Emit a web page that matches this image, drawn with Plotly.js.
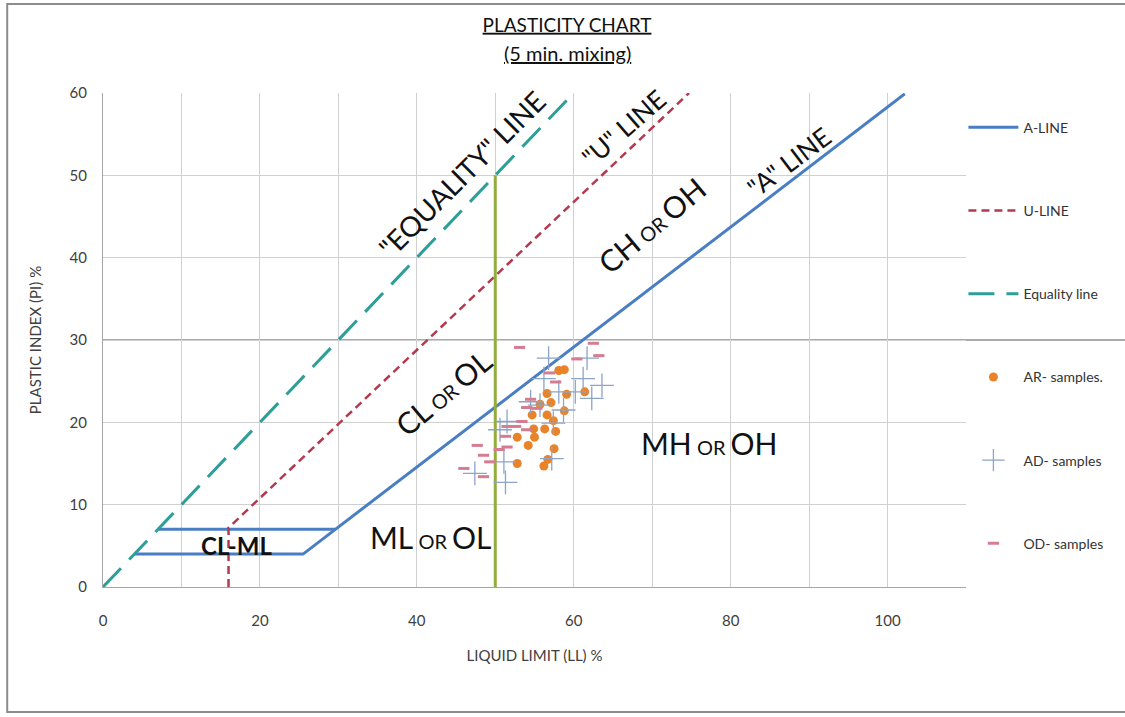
<!DOCTYPE html>
<html><head><meta charset="utf-8">
<script src="https://cdn.plot.ly/plotly-3.0.1.min.js"></script>
<style>html,body{margin:0;padding:0;background:#fff}#chart{width:1125px;height:717px}</style>
</head><body><div id="chart"></div>
<script>
// Reference lines
const aLineLL = [4, 25.5, 102.2, null, 7, 29.6];
const aLinePI = [4, 4, 59.9, null, 7, 7];
const uLineLL = [16, 16, 74.7];
const uLinePI = [0, 7.2, 60];
const eqLineLL = [0, 60];
const eqLinePI = [0, 60];
const ll50LL = [50, 50];
const ll50PI = [0, 50];

// AR- samples
const arLL = [58.1, 58.8, 56.6, 59.1, 61.4, 57.1, 55.7, 58.8, 54.7, 56.6, 57.4, 54.9, 56.3, 57.7, 52.8, 55.0, 54.2, 57.5, 52.8, 56.7, 56.2];
const arPI = [26.3, 26.4, 23.5, 23.4, 23.7, 22.4, 22.2, 21.4, 20.9, 20.9, 20.2, 19.2, 19.2, 18.9, 18.2, 18.2, 17.2, 16.8, 15.0, 15.5, 14.7];

// AD- samples
const adLL = [56.8, 61.7, 56.2, 61.2, 63.6, 58.1, 60.2, 62.3, 54.5, 55.7, 58.7, 57.4, 51.5, 50.6, 51.1, 57.2, 47.4, 51.3];
const adPI = [27.8, 27.8, 25.3, 25.3, 24.5, 23.7, 23.7, 22.9, 22.5, 22.1, 21.5, 19.9, 20.1, 19.1, 15.2, 15.6, 13.8, 12.7];

// OD- samples
const odLL = [62.5, 53.1, 60.4, 63.2, 56.9, 57.7, 54.5, 54.0, 55.3, 53.4, 52.6, 51.5, 54.0, 51.3, 47.7, 51.5, 50.5, 48.5, 49.3, 46.0, 48.5];
const odPI = [29.6, 29.1, 27.7, 28.1, 26.0, 24.9, 22.8, 21.8, 21.7, 20.1, 19.5, 19.5, 19.1, 18.3, 17.2, 17.0, 16.7, 16.0, 15.2, 14.4, 13.4];

const xTicks = [0, 20, 40, 60, 80, 100];
const yTicks = [0, 10, 20, 30, 40, 50, 60];

const FONT = 'Lato, "Open Sans", sans-serif';

const traces = [
  {x: aLineLL, y: aLinePI, name: 'A-LINE', mode: 'lines', legendgroup: 'g1',
   line: {color: '#4A7EC4', width: 3}},
  {x: uLineLL, y: uLinePI, name: 'U-LINE', mode: 'lines', legendgroup: 'g2',
   line: {color: '#B5394E', width: 2.5, dash: '8px,5px'}},
  {x: eqLineLL, y: eqLinePI, name: 'Equality line', mode: 'lines', legendgroup: 'g3',
   line: {color: '#2E9E98', width: 3, dash: '26px,12px'}},
  {x: ll50LL, y: ll50PI, name: 'LL 50', mode: 'lines', showlegend: false,
   line: {color: '#93AD3C', width: 3}},
  {x: arLL, y: arPI, name: 'AR- samples.', mode: 'markers', legendgroup: 'g4',
   marker: {symbol: 'circle', size: 9, color: '#E8832A'}},
  {x: adLL, y: adPI, name: 'AD- samples', mode: 'markers', legendgroup: 'g5',
   marker: {symbol: 'cross-thin-open', size: 17, color: '#8CA4C8', line: {color: '#8CA4C8', width: 1.3}}},
  {x: odLL, y: odPI, name: 'OD- samples', mode: 'markers', legendgroup: 'g6',
   marker: {symbol: 'line-ew-open', size: 8, color: '#D47C90', line: {color: '#D47C90', width: 3}}}
];

function small(t) { return '<span style="font-size:20px">' + t + '</span>'; }

const annFont = {family: FONT, size: 30, color: '#111'};
const annotations = [
  {x: 45.7, y: 50.2, text: '"EQUALITY" LINE', textangle: -45, font: {family: FONT, size: 28, color: '#111'}},
  {x: 66.3, y: 55.8, text: '"U" LINE', textangle: -41, font: {family: FONT, size: 26, color: '#111'}},
  {x: 87.4, y: 51.6, text: '"A" LINE', textangle: -37, font: {family: FONT, size: 26, color: '#111'}},
  {x: 69.9, y: 44.0, text: 'CH' + small(' OR ') + 'OH', textangle: -40, font: annFont},
  {x: 43.4, y: 23.7, text: 'CL' + small(' OR ') + 'OL', textangle: -40, font: annFont},
  {x: 77.3, y: 17.5, text: 'MH' + small(' OR ') + 'OH', font: annFont},
  {x: 41.8, y: 6.1, text: 'ML' + small(' OR ') + 'OL', font: annFont},
  {x: 17.0, y: 5.0, text: '<b>CL-ML</b>', font: {family: FONT, size: 24, color: '#111'}}
].map(a => Object.assign({xref: 'x', yref: 'y', showarrow: false}, a));

annotations.push({
  xref: 'paper', yref: 'paper', x: 0.5377, y: 1.081, yanchor: 'middle', showarrow: false,
  text: '<u>(5 min. mixing)</u>', font: {family: FONT, size: 20, color: '#111'}
});

const layout = {
  width: 1125, height: 717,
  margin: {l: 103, r: 159, t: 93, b: 130},
  paper_bgcolor: '#fff', plot_bgcolor: '#fff',
  font: {family: FONT, color: '#404040'},
  title: {
    text: '<u>PLASTICITY CHART</u>',
    xref: 'container', x: 0.504, xanchor: 'center', yref: 'container', y: 0.965, yanchor: 'middle',
    font: {family: FONT, size: 19, color: '#111'}
  },
  xaxis: {
    range: [0, 110], tickvals: xTicks, ticktext: xTicks.map(String),
    showgrid: true, gridcolor: '#D0D0D0', gridwidth: 1,
    minor: {dtick: 10, showgrid: true, gridcolor: '#D0D0D0', gridwidth: 1},
    zeroline: false, showline: true, linecolor: '#A6A6A6', linewidth: 1,
    ticks: '', ticklabelstandoff: 20,
    tickfont: {family: FONT, size: 15, color: '#404040'},
    title: {text: 'LIQUID LIMIT (LL) %', standoff: 22, font: {family: FONT, size: 15, color: '#404040'}}
  },
  yaxis: {
    range: [0, 60], tickvals: yTicks, ticktext: yTicks.map(String),
    showgrid: true, gridcolor: '#D0D0D0', gridwidth: 1,
    zeroline: false, showline: true, linecolor: '#A6A6A6', linewidth: 1,
    ticks: '', ticklabelstandoff: 12,
    tickfont: {family: FONT, size: 15, color: '#404040'},
    title: {text: 'PLASTIC INDEX (PI) %', standoff: 24, font: {family: FONT, size: 15, color: '#404040'}}
  },
  legend: {
    x: 0.997, xanchor: 'left', y: 0.962, yanchor: 'top',
    tracegroupgap: 62, itemwidth: 50,
    font: {family: FONT, size: 14, color: '#333'},
    bgcolor: 'rgba(0,0,0,0)'
  },
  shapes: [
    {type: 'line', xref: 'paper', yref: 'y', x0: 0, x1: 1.2, y0: 30, y1: 30,
     line: {color: '#8C8C8C', width: 1.5}, layer: 'below'},
    {type: 'rect', xref: 'paper', yref: 'paper', x0: -0.111, x1: 1.21, y0: -0.253, y1: 1.18,
     line: {color: '#8C8C8C', width: 2}, layer: 'below'}
  ],
  annotations: annotations
};

Plotly.newPlot('chart', traces, layout, {displayModeBar: false, staticPlot: true});
</script>
</body></html>
